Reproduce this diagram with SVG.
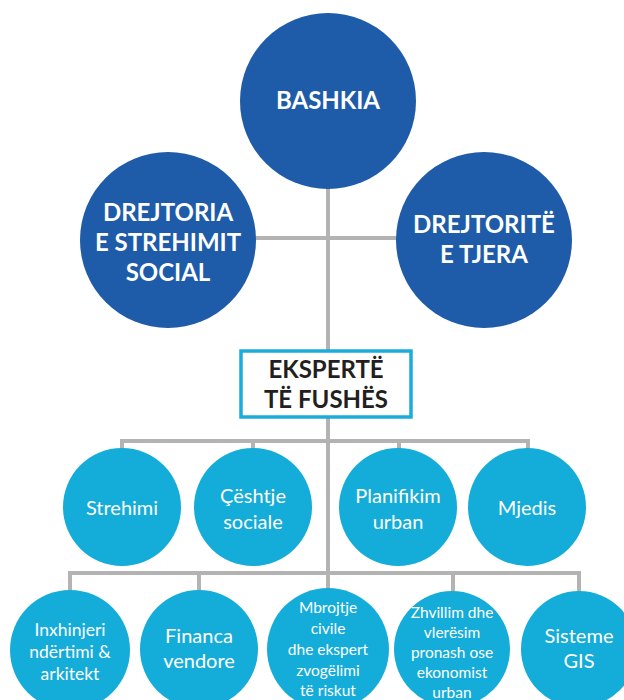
<svg xmlns="http://www.w3.org/2000/svg" width="624" height="700" viewBox="0 0 624 700">
<style>
.dark{fill:#1e5ba8}
.cyan{fill:#14acd9}
.conn{stroke:#b3b3b3;stroke-width:4;fill:none;stroke-linecap:square}
.tb{font-family:Lato,"Open Sans",sans-serif;font-weight:bold;fill:#ffffff;text-anchor:middle;font-size:24px}
.tr{font-family:Lato,"Open Sans",sans-serif;fill:#ffffff;text-anchor:middle}
.box{fill:#ffffff;stroke:#1aaddb;stroke-width:3.5}
.tk{font-family:Lato,"Open Sans",sans-serif;font-weight:bold;fill:#231f20;text-anchor:middle;font-size:24px}
</style>
<rect width="624" height="700" fill="#ffffff"/>
<g id="connectors">
<path class="conn" d="M328 188 V351"/>
<path class="conn" d="M256 238 H396"/>
<path class="conn" d="M328 417 V588"/>
<path class="conn" d="M122 449 V441 H528 V449"/>
<path class="conn" d="M253 441 V449"/>
<path class="conn" d="M399 441 V449"/>
<path class="conn" d="M70 590 V573 H579 V590"/>
<path class="conn" d="M199 573 V590"/>
<path class="conn" d="M453 573 V590"/>
</g>
<g id="bashkia">
<circle class="dark" cx="328" cy="101" r="88"/>
<text class="tb" x="328" y="109">BASHKIA</text>
</g>
<g id="drejtoria-strehimit">
<circle class="dark" cx="168" cy="240" r="88"/>
<text class="tb" x="168" y="221">DREJTORIA</text>
<text class="tb" x="168" y="251">E STREHIMIT</text>
<text class="tb" x="168" y="281">SOCIAL</text>
</g>
<g id="drejtorite-tjera">
<circle class="dark" cx="484" cy="240" r="88"/>
<text class="tb" x="484" y="233">DREJTORITË</text>
<text class="tb" x="484" y="263">E TJERA</text>
</g>
<g id="eksperte">
<rect class="box" x="241" y="351" width="170" height="66"/>
<text class="tk" x="326" y="378">EKSPERTË</text>
<text class="tk" x="326" y="408">TË FUSHËS</text>
</g>
<g id="strehimi">
<circle class="cyan" cx="122" cy="507" r="59"/>
<text class="tr" x="122" y="515" font-size="20">Strehimi</text>
</g>
<g id="ceshtje-sociale">
<circle class="cyan" cx="253" cy="507" r="59"/>
<text class="tr" x="253" y="503" font-size="20">Çështje</text>
<text class="tr" x="253" y="529" font-size="20">sociale</text>
</g>
<g id="planifikim-urban">
<circle class="cyan" cx="398" cy="507" r="59"/>
<text class="tr" x="398" y="503" font-size="20">Planifikim</text>
<text class="tr" x="398" y="529" font-size="20">urban</text>
</g>
<g id="mjedis">
<circle class="cyan" cx="527" cy="507" r="59"/>
<text class="tr" x="527" y="515" font-size="20">Mjedis</text>
</g>
<g id="inxhinjeri">
<circle class="cyan" cx="70" cy="650" r="60"/>
<text class="tr" x="70" y="636" font-size="17.5">Inxhinjeri</text>
<text class="tr" x="70" y="658" font-size="17.5">ndërtimi &amp;</text>
<text class="tr" x="70" y="680" font-size="17.5">arkitekt</text>
</g>
<g id="financa-vendore">
<circle class="cyan" cx="199" cy="649" r="59"/>
<text class="tr" x="199" y="643" font-size="20">Financa</text>
<text class="tr" x="199" y="668" font-size="20">vendore</text>
</g>
<g id="mbrojtje-civile">
<circle class="cyan" cx="328" cy="649" r="61"/>
<text class="tr" x="328" y="613" font-size="15.5">Mbrojtje</text>
<text class="tr" x="328" y="634" font-size="15.5">civile</text>
<text class="tr" x="328" y="655" font-size="15.5">dhe ekspert</text>
<text class="tr" x="328" y="676" font-size="15.5">zvogëlimi</text>
<text class="tr" x="328" y="696" font-size="15.5">të riskut</text>
</g>
<g id="zhvillim">
<circle class="cyan" cx="452" cy="649" r="58"/>
<text class="tr" x="452" y="618" font-size="15.5">Zhvillim dhe</text>
<text class="tr" x="452" y="638" font-size="15.5">vlerësim</text>
<text class="tr" x="452" y="658" font-size="15.5">pronash ose</text>
<text class="tr" x="452" y="678" font-size="15.5">ekonomist</text>
<text class="tr" x="452" y="698" font-size="15.5">urban</text>
</g>
<g id="sisteme-gis">
<circle class="cyan" cx="579" cy="649" r="58"/>
<text class="tr" x="579" y="643" font-size="20">Sisteme</text>
<text class="tr" x="579" y="668" font-size="20">GIS</text>
</g>
</svg>
